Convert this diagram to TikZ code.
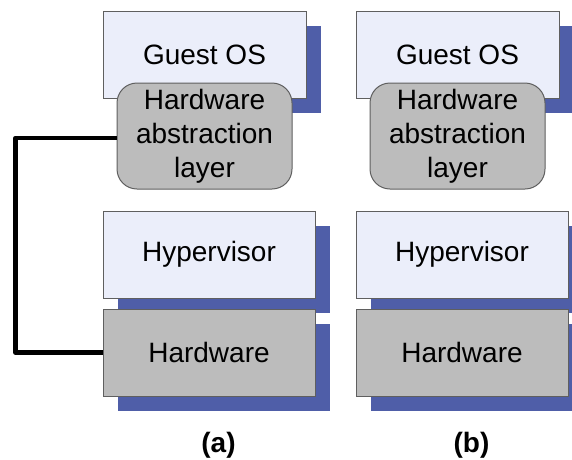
\documentclass[tikz,border=0pt]{standalone}
\usepackage{fontspec}
\setmainfont{Liberation Sans}
\usetikzlibrary{shadows}
\definecolor{lightbox}{RGB}{235,238,250}
\definecolor{grayfill}{RGB}{188,188,188}
\definecolor{shadowblue}{RGB}{79,94,168}
\definecolor{edgegray}{RGB}{95,95,95}
\begin{document}
\begin{tikzpicture}[x=1pt,y=-1pt,
  txt/.style={font=\fontsize{28}{34}\selectfont, align=center, inner sep=0pt, text=black},
  bshadow/.style={general shadow={fill=shadowblue, shadow xshift=14.5pt, shadow yshift=-14.5pt}},
  lightrect/.style={txt, rectangle, draw=edgegray, line width=1pt, fill=lightbox, bshadow},
  grayrect/.style={txt, rectangle, draw=edgegray, line width=1pt, fill=grayfill, bshadow},
  halbox/.style={txt, rectangle, rounded corners=20pt, draw=edgegray, line width=1pt, fill=grayfill,
     minimum width=175pt, minimum height=106pt},
  caption/.style={font=\fontsize{28}{34}\selectfont\bfseries, inner sep=0pt},
  link/.style={line width=4.5pt, line join=round, black}
]
\useasboundingbox (0,0) rectangle (572,459);
\fill[white] (0,0) rectangle (572,459);

% panel (a)
\node[lightrect, minimum width=203pt, minimum height=87pt] (goa) at (204.5,54.5) {Guest OS};
\node[halbox] (hala) at (204.5,136) {Hardware\\abstraction\\layer};
\node[lightrect, minimum width=212pt, minimum height=87pt] (hva) at (209,254.5) {Hypervisor};
\node[grayrect, minimum width=212pt, minimum height=87pt] (hwa) at (209,352.5) {Hardware};
\node[caption] (capa) at (218.5,445) {(a)};

% panel (b)
\node[lightrect, minimum width=203pt, minimum height=87pt] (gob) at (457.5,54.5) {Guest OS};
\node[halbox] (halb) at (457.5,136) {Hardware\\abstraction\\layer};
\node[lightrect, minimum width=212pt, minimum height=87pt] (hvb) at (462,254.5) {Hypervisor};
\node[grayrect, minimum width=212pt, minimum height=87pt] (hwb) at (462,352.5) {Hardware};
\node[caption] (capb) at (471.5,445) {(b)};

% connector
\coordinate (bend) at (15.5,138);
\draw[link] (hala.west |- bend) -- (bend) |- (hwa.west);
\end{tikzpicture}
\end{document}
